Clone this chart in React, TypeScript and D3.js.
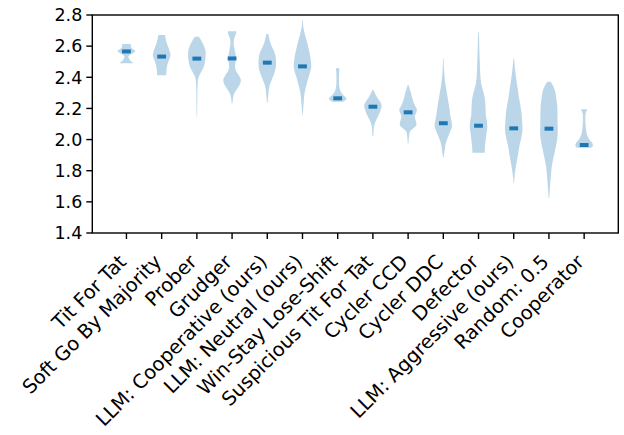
import React from 'react';
import * as d3 from 'd3';

const strategies = [
  'Tit For Tat', 'Soft Go By Majority', 'Prober', 'Grudger', 'LLM: Cooperative (ours)',
  'LLM: Neutral (ours)', 'Win-Stay Lose-Shift', 'Suspicious Tit For Tat', 'Cycler CCD',
  'Cycler DDC', 'Defector', 'LLM: Aggressive (ours)', 'Random: 0.5', 'Cooperator',
];

const medians = [2.566, 2.533, 2.52, 2.521, 2.494, 2.47, 2.265, 2.211, 2.175, 2.105, 2.089, 2.072, 2.07, 1.965];

// violin outlines: [score, relative half width]
const titForTat = [[2.49, 0.8], [2.5, 0.6], [2.515, 0.35], [2.532, 0.22], [2.548, 0.5], [2.56, 0.9], [2.569, 1.0], [2.58, 0.75], [2.595, 0.52], [2.605, 0.5], [2.614, 0.48]];
const softGo = [[2.413, 0.52], [2.43, 0.53], [2.46, 0.58], [2.49, 0.7], [2.52, 0.9], [2.54, 1.0], [2.56, 0.95], [2.59, 0.78], [2.62, 0.57], [2.65, 0.45], [2.672, 0.38]];
const prober = [[2.147, 0.02], [2.2, 0.04], [2.3, 0.06], [2.36, 0.09], [2.39, 0.15], [2.415, 0.3], [2.44, 0.55], [2.47, 0.8], [2.51, 0.95], [2.555, 1.0], [2.6, 0.82], [2.63, 0.55], [2.65, 0.35], [2.661, 0.2]];
const grudger = [[2.233, 0.04], [2.26, 0.1], [2.29, 0.2], [2.32, 0.5], [2.35, 0.85], [2.38, 1.0], [2.41, 0.8], [2.44, 0.45], [2.47, 0.33], [2.5, 0.4], [2.525, 0.43], [2.56, 0.35], [2.6, 0.22], [2.62, 0.18], [2.65, 0.25], [2.68, 0.45], [2.695, 0.5]];
const llmCoop = [[2.237, 0.04], [2.28, 0.1], [2.34, 0.23], [2.4, 0.62], [2.45, 0.92], [2.49, 1.0], [2.53, 0.95], [2.56, 0.82], [2.6, 0.5], [2.63, 0.3], [2.66, 0.18], [2.678, 0.12]];
const llmNeutral = [[2.158, 0.03], [2.2, 0.08], [2.25, 0.15], [2.3, 0.24], [2.35, 0.45], [2.4, 0.68], [2.45, 0.95], [2.47, 1.0], [2.52, 0.92], [2.57, 0.75], [2.62, 0.55], [2.68, 0.25], [2.72, 0.1], [2.768, 0.03]];
const wsls = [[2.243, 0.6], [2.25, 0.8], [2.262, 1.0], [2.275, 0.85], [2.29, 0.55], [2.31, 0.32], [2.33, 0.22], [2.36, 0.15], [2.4, 0.14], [2.44, 0.17], [2.458, 0.2]];
const stft = [[2.023, 0.05], [2.06, 0.08], [2.094, 0.15], [2.126, 0.38], [2.158, 0.66], [2.19, 0.88], [2.215, 1.0], [2.24, 0.85], [2.265, 0.55], [2.29, 0.3], [2.318, 0.05]];
const cyclerCCD = [[1.976, 0.05], [2.02, 0.1], [2.05, 0.2], [2.072, 0.6], [2.095, 0.95], [2.11, 0.92], [2.15, 0.75], [2.175, 0.95], [2.19, 1.0], [2.21, 0.85], [2.235, 0.65], [2.27, 0.45], [2.3, 0.32], [2.33, 0.15], [2.35, 0.05]];
const cyclerDDC = [[1.89, 0.05], [1.93, 0.15], [1.976, 0.28], [2.02, 0.55], [2.06, 0.85], [2.09, 1.0], [2.12, 0.92], [2.16, 0.78], [2.19, 0.72], [2.25, 0.55], [2.3, 0.4], [2.34, 0.28], [2.38, 0.18], [2.43, 0.1], [2.48, 0.05], [2.522, 0.03]];
const defector = [[1.916, 0.7], [1.95, 0.72], [2.0, 0.82], [2.04, 0.9], [2.08, 1.0], [2.12, 0.95], [2.16, 0.82], [2.2, 0.8], [2.25, 0.75], [2.3, 0.58], [2.36, 0.3], [2.42, 0.2], [2.5, 0.14], [2.58, 0.09], [2.65, 0.06], [2.693, 0.03]];
const llmAggr = [[1.72, 0.03], [1.78, 0.12], [1.847, 0.3], [1.9, 0.48], [1.954, 0.63], [2.01, 0.85], [2.07, 1.0], [2.12, 0.95], [2.17, 0.88], [2.22, 0.75], [2.275, 0.58], [2.33, 0.45], [2.383, 0.3], [2.45, 0.15], [2.522, 0.03]];
const random05 = [[1.623, 0.03], [1.68, 0.1], [1.72, 0.15], [1.78, 0.24], [1.826, 0.32], [1.88, 0.5], [1.933, 0.7], [1.99, 0.9], [2.04, 1.0], [2.1, 0.98], [2.16, 0.97], [2.21, 0.95], [2.26, 0.85], [2.318, 0.66], [2.35, 0.42], [2.372, 0.2]];
const cooperator = [[1.948, 0.8], [1.96, 1.0], [1.975, 0.95], [1.995, 0.65], [2.015, 0.45], [2.04, 0.28], [2.083, 0.18], [2.12, 0.14], [2.16, 0.14], [2.18, 0.25], [2.194, 0.36]];

const profiles = [titForTat, softGo, prober, grudger, llmCoop, llmNeutral, wsls, stft, cyclerCCD, cyclerDDC, defector, llmAggr, random05, cooperator];

const yTicks = [1.4, 1.6, 1.8, 2.0, 2.2, 2.4, 2.6, 2.8];

const FONT = '"DejaVu Sans", sans-serif';

export default function App() {
  const W = 624, H = 435;
  const x = d3.scaleLinear().domain([0.03, 14.97]).range([92.3, 618.3]);
  const y = d3.scaleLinear().domain([1.4, 2.8]).range([233, 15]);
  const halfW = 0.25;
  const C0 = '#1f77b4';
  const fs = 17.5;
  const fsX = 19.4;

  return (
    <div style={{ position: 'fixed', left: 0, top: 0 }}>
      <svg width={W} height={H} style={{ display: 'block', background: '#fff' }}>
        {profiles.map((prof, i) => {
          const pos = i + 1;
          const area = d3.area<number[]>()
            .y(d => y(d[0]))
            .x0(d => x(pos - d[1] * halfW))
            .x1(d => x(pos + d[1] * halfW))
            .curve(d3.curveMonotoneY);
          return <path key={'v' + i} d={area(prof) || ''} fill={C0} fillOpacity={0.3} />;
        })}
        {medians.map((m, i) => (
          <rect key={'m' + i} x={x(i + 1 - 0.125)} y={y(m) - 2} width={x(1.25) - x(1)} height={4} fill={C0} />
        ))}
        {/* spines */}
        <rect x={x.range()[0]} y={y(2.8)} width={x.range()[1] - x.range()[0]} height={y(1.4) - y(2.8)}
          fill="none" stroke="#000" strokeWidth={1.4} />
        {yTicks.map(t => (
          <g key={'y' + t}>
            <line x1={x.range()[0] - 6} x2={x.range()[0]} y1={y(t)} y2={y(t)} stroke="#000" strokeWidth={1.4} />
            <text x={x.range()[0] - 10} y={y(t)} dy="0.36em" textAnchor="end" fontFamily={FONT} fontSize={fs}>{t.toFixed(1)}</text>
          </g>
        ))}
        {strategies.map((s, i) => {
          const tx = x(i + 1);
          return (
            <g key={'x' + i}>
              <line x1={tx} x2={tx} y1={y(1.4)} y2={y(1.4) + 6} stroke="#000" strokeWidth={1.4} />
              <text transform={`translate(${tx + 1},${y(1.4) + 30}) rotate(-45)`} textAnchor="end"
                fontFamily={FONT} fontSize={fsX}>{s}</text>
            </g>
          );
        })}
      </svg>
    </div>
  );
}
